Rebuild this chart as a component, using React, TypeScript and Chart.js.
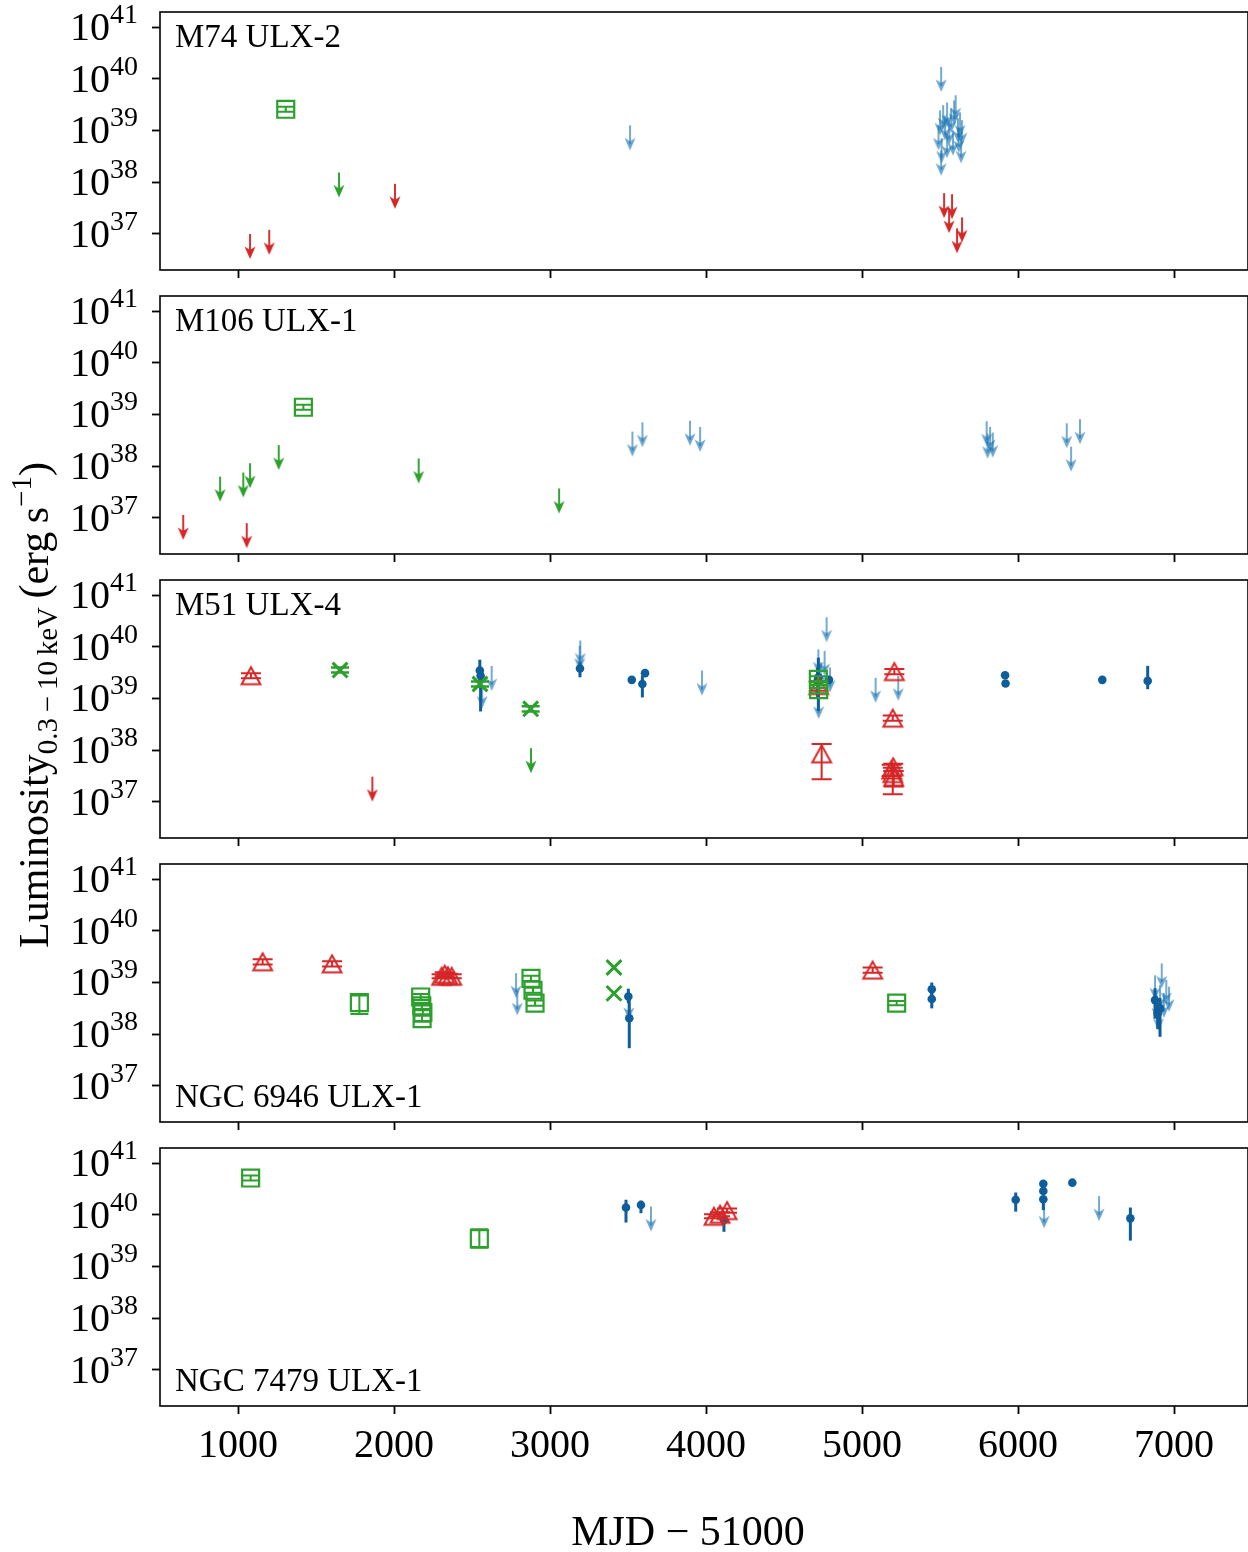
import React, { useEffect, useRef } from 'react';
import { Chart, registerables } from 'chart.js';

Chart.register(...registerables);

// ---------- axes ----------
const X_TICKS = [1000, 2000, 3000, 4000, 5000, 6000, 7000];
const Y_EXPONENTS = [37, 38, 39, 40, 41];
const X_MIN = 500;
const X_MAX = 7474;
const LOG_MIN = 36.304;
const LOG_MAX = 41.29;
const PANEL_NAMES = ['M74 ULX-2', 'M106 ULX-1', 'M51 ULX-4', 'NGC 6946 ULX-1', 'NGC 7479 ULX-1'];

// ---------- data: [MJD-51000, log10 L] or [MJD-51000, log10 L, log10 L_lo, log10 L_hi] ----------
type P2 = [number, number];
type P4 = [number, number, number, number];

// M74 ULX-2
const M74_LIGHT_UL: P2[] = [
  [3513, 39.1], [5507, 40.23], [5500, 39.39], [5520, 39.49], [5532, 39.29], [5545, 39.54], [5558, 39.2],
  [5571, 39.43], [5590, 39.58], [5600, 39.68], [5615, 39.24], [5628, 39.35], [5490, 39.1], [5507, 38.61],
  [5583, 39.0], [5635, 38.85], [5545, 38.95], [5620, 39.05], [5510, 38.85], [5640, 39.2],
];
const M74_RED_UL: P2[] = [[1077, 37.0], [1200, 37.08], [2006, 37.97], [5526, 37.79], [5558, 37.5], [5577, 37.77], [5609, 37.11], [5641, 37.32]];
const M74_GREEN_UL: P2[] = [[1647, 38.19]];
const M74_GREEN_SQ: P4[] = [[1306, 39.41, 39.36, 39.46]];

// M106 ULX-1
const M106_LIGHT_UL: P2[] = [
  [3528, 38.67], [3592, 38.85], [3897, 38.88], [3962, 38.76], [5799, 38.87], [5821, 38.76],
  [5838, 38.65], [5805, 38.63], [6312, 38.83], [6397, 38.91], [6340, 38.38],
];
const M106_RED_UL: P2[] = [[649, 37.06], [1056, 36.9]];
const M106_GREEN_UL: P2[] = [[885, 37.8], [1034, 37.88], [1077, 38.06], [1261, 38.41], [2158, 38.15], [3058, 37.57]];
const M106_GREEN_SQ: P4[] = [[1419, 39.14, 39.09, 39.19]];

// M51 ULX-4
const M51_LIGHT_UL: P2[] = [
  [2565, 39.29], [2626, 39.63], [3190, 40.02], [3194, 40.12], [3974, 39.54], [4712, 39.5], [4720, 39.95],
  [4722, 39.09], [4735, 39.7], [4760, 39.92], [4773, 40.57], [4795, 39.6], [5087, 39.4], [5232, 39.44],
];
const M51_DARK: P4[] = [
  [2550, 39.54, 39.2, 39.75], [2555, 39.44, 38.75, 39.6], [3192, 39.58, 39.41, 39.7], [3524, 39.36, 39.33, 39.39],
  [3592, 39.28, 39.02, 39.44], [3609, 39.49, 39.44, 39.55], [4720, 39.41, 38.76, 39.79], [4715, 39.34, 39.0, 39.6],
  [4788, 39.36, 39.31, 39.41], [5917, 39.45, 39.41, 39.49], [5920, 39.29, 39.25, 39.33], [6540, 39.36, 39.33, 39.39],
  [6831, 39.34, 39.18, 39.63],
];
const M51_RED_UL: P2[] = [[1861, 37.49]];
const M51_GREEN_UL: P2[] = [[2878, 38.04]];
const M51_RED_TRI: P4[] = [
  [1083, 39.44, 39.39, 39.49], [4722, 39.25, 39.15, 39.33], [4741, 37.93, 37.44, 38.12], [5207, 39.52, 39.47, 39.57],
  [5197, 38.62, 38.57, 38.67], [5190, 37.62, 37.5, 37.72], [5197, 37.55, 37.15, 37.66], [5203, 37.48, 37.3, 37.6],
  [5200, 37.68, 37.6, 37.74],
];
const M51_GREEN_SQ: P4[] = [[4720, 39.37, 39.31, 39.43], [4722, 39.17, 39.1, 39.26]];
const M51_GREEN_X: P4[] = [[1654, 39.55, 39.5, 39.6], [2551, 39.28, 39.23, 39.33], [2876, 38.8, 38.75, 38.85]];

// NGC 6946 ULX-1
const N6946_LIGHT_UL: P2[] = [
  [2782, 39.18], [2790, 38.85], [3505, 38.76], [6878, 39.14], [6921, 39.37], [6910, 38.95],
  [6968, 38.92], [6890, 38.75], [6935, 38.8], [6900, 38.55], [6950, 39.05],
];
const N6946_DARK: P4[] = [
  [3502, 38.73, 38.6, 38.88], [3508, 38.31, 37.73, 38.66], [5447, 38.87, 38.75, 39.0], [5447, 38.68, 38.5, 38.8],
  [6878, 38.66, 38.3, 38.89], [6910, 38.5, 37.95, 38.7], [6895, 38.4, 38.1, 38.6],
];
const N6946_RED_TRI: P4[] = [
  [1158, 39.4, 39.35, 39.45], [1603, 39.36, 39.31, 39.41], [2305, 39.12, 39.08, 39.16], [2325, 39.16, 39.12, 39.2],
  [2345, 39.13, 39.09, 39.17], [2370, 39.12, 39.08, 39.16], [5068, 39.24, 39.19, 39.29],
];
const N6946_GREEN_SQ: P4[] = [
  [1778, 38.61, 38.39, 38.75], [2171, 38.72, 38.66, 38.78], [2178, 38.55, 38.49, 38.61], [2185, 38.42, 38.36, 38.48],
  [2180, 38.3, 38.24, 38.36], [2878, 39.08, 39.03, 39.13], [2891, 38.85, 38.8, 38.9], [2904, 38.6, 38.55, 38.65],
  [5222, 38.6, 38.56, 38.64],
];
const N6946_GREEN_X: P2[] = [[3410, 39.29], [3410, 38.79]];

// NGC 7479 ULX-1
const N7479_LIGHT_UL: P2[] = [[3647, 40.16], [6167, 40.22], [6519, 40.36]];
const N7479_DARK: P4[] = [
  [3487, 40.14, 39.85, 40.29], [3583, 40.19, 40.03, 40.27], [4115, 39.9, 39.67, 40.0], [5985, 40.29, 40.06, 40.43],
  [6162, 40.6, 40.55, 40.65], [6162, 40.46, 40.41, 40.51], [6162, 40.3, 40.09, 40.36], [6348, 40.62, 40.57, 40.67],
  [6720, 39.93, 39.5, 40.14],
];
const N7479_RED_TRI: P4[] = [[4051, 39.97, 39.93, 40.01], [4090, 40.01, 39.97, 40.05], [4135, 40.08, 40.04, 40.12]];
const N7479_GREEN_SQ: P4[] = [[1081, 40.71, 40.66, 40.76], [2547, 39.54, 39.36, 39.72]];

// ---------- styling ----------
const RED = '#d62728';
const GREEN = '#2ca02c';
const DARK_BLUE = '#0f5e9c';
const LIGHT_BLUE = 'rgba(31,119,180,0.65)';
const FONT = '"Liberation Serif", "DejaVu Serif", serif';

const PANEL_TOPS = [12, 296, 580, 864, 1148];
const PANEL_H = 258;
const PAD_TOP = 20;

type PanelData = {
  light: P2[]; dark: P4[]; redUL: P2[]; greenUL: P2[]; redTri: P4[]; greenSq: P4[]; greenX: (P2 | P4)[];
  labelBottom: boolean;
};

const PANELS: PanelData[] = [
  { light: M74_LIGHT_UL, dark: [], redUL: M74_RED_UL, greenUL: M74_GREEN_UL, redTri: [], greenSq: M74_GREEN_SQ, greenX: [], labelBottom: false },
  { light: M106_LIGHT_UL, dark: [], redUL: M106_RED_UL, greenUL: M106_GREEN_UL, redTri: [], greenSq: M106_GREEN_SQ, greenX: [], labelBottom: false },
  { light: M51_LIGHT_UL, dark: M51_DARK, redUL: M51_RED_UL, greenUL: M51_GREEN_UL, redTri: M51_RED_TRI, greenSq: M51_GREEN_SQ, greenX: M51_GREEN_X, labelBottom: false },
  { light: N6946_LIGHT_UL, dark: N6946_DARK, redUL: [], greenUL: [], redTri: N6946_RED_TRI, greenSq: N6946_GREEN_SQ, greenX: N6946_GREEN_X, labelBottom: true },
  { light: N7479_LIGHT_UL, dark: N7479_DARK, redUL: [], greenUL: [], redTri: N7479_RED_TRI, greenSq: N7479_GREEN_SQ, greenX: [], labelBottom: true },
];

// ---------- marker images ----------
function makeArrow(color: string): HTMLCanvasElement {
  const c = document.createElement('canvas');
  c.width = 14;
  c.height = 54;
  const g = c.getContext('2d')!;
  const cx = 7, top = 27;
  g.strokeStyle = color;
  g.fillStyle = color;
  g.lineWidth = 1.9;
  g.beginPath();
  g.moveTo(cx, top);
  g.lineTo(cx, top + 19);
  g.stroke();
  g.beginPath();
  g.moveTo(cx, top + 25);
  g.lineTo(cx - 5.5, top + 12.5);
  g.lineTo(cx, top + 16);
  g.lineTo(cx + 5.5, top + 12.5);
  g.closePath();
  g.fill();
  return c;
}

function makeTriangle(color: string): HTMLCanvasElement {
  const c = document.createElement('canvas');
  c.width = 26;
  c.height = 26;
  const g = c.getContext('2d')!;
  g.strokeStyle = color;
  g.lineWidth = 2;
  g.lineJoin = 'miter';
  g.beginPath();
  g.moveTo(13, 4.5);
  g.lineTo(3.6, 21.5);
  g.lineTo(22.4, 21.5);
  g.closePath();
  g.stroke();
  return c;
}

// ---------- plugins ----------
const errorBarPlugin = {
  id: 'errorBars',
  beforeDatasetDraw(chart: any, args: any) {
    const ds = chart.data.datasets[args.index];
    const errs = ds.errs as ([number, number] | null)[] | undefined;
    if (!errs) return;
    const ctx = chart.ctx;
    const y = chart.scales.y;
    const area = chart.chartArea;
    ctx.save();
    ctx.beginPath();
    ctx.rect(area.left, area.top, area.right - area.left, area.bottom - area.top);
    ctx.clip();
    ctx.strokeStyle = ds.errColor;
    ctx.lineWidth = ds.errWidth;
    args.meta.data.forEach((pt: any, i: number) => {
      const e = errs[i];
      if (!e) return;
      const y1 = y.getPixelForValue(10 ** e[0]);
      const y2 = y.getPixelForValue(10 ** e[1]);
      ctx.beginPath();
      ctx.moveTo(pt.x, y1);
      ctx.lineTo(pt.x, y2);
      const cap = ds.capHalf || 0;
      if (cap > 0) {
        ctx.moveTo(pt.x - cap, y1);
        ctx.lineTo(pt.x + cap, y1);
        ctx.moveTo(pt.x - cap, y2);
        ctx.lineTo(pt.x + cap, y2);
      }
      ctx.stroke();
    });
    ctx.restore();
  },
};

function makeDecorPlugin(name: string, labelBottom: boolean, showX: boolean) {
  return {
    id: 'decor',
    afterDraw(chart: any) {
      const ctx = chart.ctx;
      const a = chart.chartArea;
      const y = chart.scales.y;
      const x = chart.scales.x;
      ctx.save();
      ctx.strokeStyle = '#000';
      ctx.lineWidth = 1.6;
      ctx.strokeRect(a.left, a.top, a.right - a.left, a.bottom - a.top);
      ctx.fillStyle = '#000';
      ctx.textBaseline = 'alphabetic';
      ctx.textAlign = 'left';
      // y tick labels 10^n
      const right = 138;
      for (const e of Y_EXPONENTS) {
        const py = y.getPixelForValue(10 ** e);
        ctx.font = `40px ${FONT}`;
        const bw = ctx.measureText('10').width;
        ctx.font = `28px ${FONT}`;
        const sw = ctx.measureText(String(e)).width;
        ctx.font = `40px ${FONT}`;
        ctx.fillText('10', right - sw - bw, py + 13);
        ctx.font = `28px ${FONT}`;
        ctx.fillText(String(e), right - sw, py - 4);
      }
      // x tick labels
      if (showX) {
        ctx.font = `40px ${FONT}`;
        ctx.textAlign = 'center';
        for (const v of X_TICKS) {
          ctx.fillText(String(v), x.getPixelForValue(v), a.bottom + 51);
        }
      }
      // panel name
      ctx.textAlign = 'left';
      ctx.font = `33px ${FONT}`;
      ctx.fillText(name, 175, labelBottom ? a.bottom - 15 : a.top + 35);
      ctx.restore();
    },
  };
}

// ---------- panel ----------
function Panel({ idx }: { idx: number }) {
  const ref = useRef<HTMLCanvasElement | null>(null);
  const showX = idx === PANELS.length - 1;
  const canvasTop = PANEL_TOPS[idx] - PAD_TOP;
  const canvasH = showX ? 400 : PAD_TOP + PANEL_H + 20;

  useEffect(() => {
    const p = PANELS[idx];
    const arrowLight = makeArrow(LIGHT_BLUE);
    const arrowRed = makeArrow(RED);
    const arrowGreen = makeArrow(GREEN);
    const tri = makeTriangle(RED);

    const toXY = (arr: number[][]) => arr.map((q) => ({ x: q[0], y: 10 ** q[1] }));
    const toErr = (arr: number[][]) => arr.map((q) => (q.length > 3 ? [q[2], q[3]] as [number, number] : null));

    const base = { showLine: false, pointHoverRadius: 0 };
    const datasets: any[] = [];
    if (p.light.length) datasets.push({ ...base, data: toXY(p.light), pointStyle: arrowLight, pointRadius: 3, order: 7 });
    if (p.dark.length) datasets.push({
      ...base, data: toXY(p.dark), errs: toErr(p.dark), errColor: DARK_BLUE, errWidth: 3, capHalf: 0,
      pointStyle: 'circle', pointRadius: 4.3, pointBorderWidth: 0, pointBackgroundColor: DARK_BLUE, pointBorderColor: DARK_BLUE, order: 6,
    });
    if (p.redUL.length) datasets.push({ ...base, data: toXY(p.redUL), pointStyle: arrowRed, pointRadius: 3, order: 5 });
    if (p.greenUL.length) datasets.push({ ...base, data: toXY(p.greenUL), pointStyle: arrowGreen, pointRadius: 3, order: 4 });
    if (p.redTri.length) datasets.push({
      ...base, data: toXY(p.redTri), errs: toErr(p.redTri), errColor: RED, errWidth: 2, capHalf: 10,
      pointStyle: tri, pointRadius: 3, order: 3,
    });
    if (p.greenSq.length) datasets.push({
      ...base, data: toXY(p.greenSq), errs: toErr(p.greenSq), errColor: GREEN, errWidth: 2, capHalf: 9,
      pointStyle: 'rect', pointRadius: 12, pointBorderWidth: 2.2, pointBorderColor: GREEN, pointBackgroundColor: 'rgba(0,0,0,0)', order: 2,
    });
    if (p.greenX.length) datasets.push({
      ...base, data: toXY(p.greenX as number[][]), errs: toErr(p.greenX as number[][]), errColor: GREEN, errWidth: 2.5, capHalf: 9,
      pointStyle: 'crossRot', pointRadius: 10.5, pointBorderWidth: 3, pointBorderColor: GREEN, order: 1,
    });

    const chart = new Chart(ref.current!, {
      type: 'scatter',
      data: { datasets },
      options: {
        responsive: false,
        animation: false,
        events: [],
        layout: { autoPadding: false, padding: { top: PAD_TOP, bottom: canvasH - PAD_TOP - PANEL_H, left: 0, right: 0 } },
        plugins: { legend: { display: false }, tooltip: { enabled: false } },
        scales: {
          x: {
            type: 'linear',
            position: 'bottom',
            min: X_MIN,
            max: X_MAX,
            afterBuildTicks: (s: any) => { s.ticks = X_TICKS.map((v) => ({ value: v })); },
            afterFit: (s: any) => { s.height = 0; },
            ticks: { display: false },
            grid: { display: true, drawOnChartArea: false, drawTicks: true, tickLength: 8, tickWidth: 1.8, tickColor: '#000' },
            border: { display: false },
          },
          y: {
            type: 'logarithmic',
            position: 'left',
            min: 10 ** LOG_MIN,
            max: 10 ** LOG_MAX,
            afterBuildTicks: (s: any) => { s.ticks = Y_EXPONENTS.map((e) => ({ value: 10 ** e })); },
            afterFit: (s: any) => { s.width = 160; },
            ticks: { display: false },
            grid: { display: true, drawOnChartArea: false, drawTicks: true, tickLength: 8, tickWidth: 1.8, tickColor: '#000' },
            border: { display: false },
          },
        },
      } as any,
      plugins: [errorBarPlugin, makeDecorPlugin(PANEL_NAMES[idx], p.labelBottom, showX)],
    });
    return () => chart.destroy();
  }, [idx]);

  return (
    <canvas
      ref={ref}
      width={1248}
      height={canvasH}
      style={{ position: 'absolute', left: 0, top: canvasTop, width: 1248, height: canvasH }}
    />
  );
}

function TitlesOverlay() {
  const ref = useRef<HTMLCanvasElement | null>(null);
  useEffect(() => {
    const c = ref.current!;
    const ctx = c.getContext('2d')!;
    ctx.clearRect(0, 0, c.width, c.height);
    ctx.fillStyle = '#000';
    ctx.textBaseline = 'alphabetic';
    // x title
    ctx.font = `42px ${FONT}`;
    ctx.textAlign = 'center';
    ctx.fillText('MJD \u2212 51000', 688, 1545);
    // y title (rotated)
    ctx.save();
    ctx.translate(48, 948);
    ctx.rotate(-Math.PI / 2);
    ctx.textAlign = 'left';
    let xx = 0;
    const piece = (t: string, size: number, dy: number) => {
      ctx.font = `${size}px ${FONT}`;
      ctx.fillText(t, xx, dy);
      xx += ctx.measureText(t).width;
    };
    piece('Luminosity', 42, 0);
    piece('0.3\u2009\u2212\u200910\u2009keV', 29, 9);
    piece('\u2009(erg\u2009s', 42, 0);
    piece('\u22121', 29, -17);
    piece(')', 42, 0);
    ctx.restore();
  }, []);
  return (
    <canvas
      ref={ref}
      width={1248}
      height={1552}
      style={{ position: 'absolute', left: 0, top: 0, width: 1248, height: 1552, pointerEvents: 'none' }}
    />
  );
}

export default function App() {
  return (
    <div style={{ position: 'absolute', left: 0, top: 0, width: 1248, height: 1552, background: '#fff', overflow: 'hidden' }}>
      {PANELS.map((_, i) => (
        <Panel key={i} idx={i} />
      ))}
      <TitlesOverlay />
    </div>
  );
}
